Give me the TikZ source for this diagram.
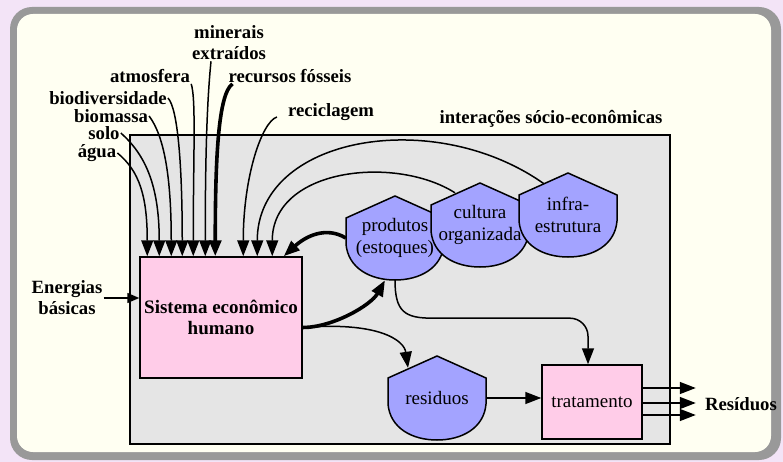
\documentclass[tikz,border=0pt]{standalone}
\usepackage{fontspec}
\setmainfont{Liberation Serif}
\usetikzlibrary{arrows.meta,calc}

\definecolor{bgpink}{HTML}{F3E4F7}
\definecolor{framegray}{HTML}{999999}
\definecolor{ivory}{HTML}{FFFFF2}
\definecolor{boxgray}{HTML}{E5E5E5}
\definecolor{syspink}{HTML}{FFCCE8}
\definecolor{bagblue}{HTML}{A3A3FF}

\tikzset{
  lbl/.style={font=\fontsize{18.7}{21}\selectfont\bfseries, align=center, inner sep=1pt},
  txt/.style={font=\fontsize{19}{22}\selectfont, align=center, inner sep=0pt},
  pinkbox/.style={draw, line width=1.5pt, fill=syspink, align=center, inner sep=0pt},
  flow/.style={line width=1.5pt, -{Triangle[length=16pt,width=12pt]}},
  bigflow/.style={flow, line width=3.6pt},
  smallflow/.style={line width=1.5pt, -{Triangle[length=12pt,width=10pt]}},
}

\newcommand{\bagnode}[3]{%
  \filldraw[fill=bagblue, line width=1.5pt] (#2) ++(0,-42) -- ++(49,22) -- ++(0,26)
    .. controls +(-2,24) and +(25,0) .. ++(-49,36)
    .. controls +(-25,0) and +(2,24) .. ++(-49,-36) -- ++(0,-26) -- cycle;
  \node[txt, minimum width=98pt, minimum height=84pt] (#1) at (#2) {#3};}

\begin{document}
\begin{tikzpicture}[x=1pt,y=-1pt]
\useasboundingbox (0,0) rectangle (783,462);
\fill[bgpink] (0,0) rectangle (783,462);
\fill[framegray, rounded corners=22pt] (10,7) rectangle (781,460);
\fill[ivory, rounded corners=16pt] (17,14) rectangle (771,452);
\node[draw, line width=1.5pt, fill=boxgray, minimum width=540pt, minimum height=309pt] (socio) at (400,289.5) {};
\node[lbl] (socl) at (551,119) {interações sócio-econômicas};
\node[pinkbox, minimum width=162pt, minimum height=121pt, font=\fontsize{19}{21}\selectfont\bfseries] (sist) at (221,317.5) {Sistema econômico\\humano};
\node[pinkbox, minimum width=100pt, minimum height=74pt, font=\fontsize{19}{22}\selectfont] (trat) at (592,402) {tratamento};
\node[lbl] (minext) at (229,43) {minerais\\extraídos};
\node[lbl] (atm) at (150,76) {atmosfera};
\node[lbl] (foss) at (290,76) {recursos fósseis};
\node[lbl] (biod) at (108,98) {biodiversidade};
\node[lbl] (biom) at (111,116) {biomassa};
\node[lbl] (solo) at (104,133) {solo};
\node[lbl] (agua) at (97,153) {água};
\node[lbl] (recic) at (331,112) {reciclagem};
\node[lbl] (energ) at (67,298) {Energias\\básicas};
\node[lbl] (resid) at (741,404) {Resíduos};
\bagnode{prod}{395,238}{produtos\\(estoques)}
\bagnode{cult}{480,225}{cultura\\organizada}
\bagnode{infra}{568,215}{infra-\\estrutura}
\bagnode{res}{437,398}{residuos}
\draw[flow] (agua.east) .. controls +(22,18) and +(0,-60) .. ($(sist.north west)+(8,0)$);
\draw[flow] (solo.east) .. controls +(25,22) and +(0,-70) .. ($(sist.north west)+(20,0)$);
\draw[flow] (biom.east) .. controls +(15,20) and +(0,-80) .. ($(sist.north west)+(32,0)$);
\draw[flow] (biod.east) .. controls +(10,10) and +(0,-90) .. ($(sist.north west)+(43,0)$);
\draw[flow] (atm.south east) .. controls +(5,15) and +(0,-100) .. ($(sist.north west)+(54,0)$);
\draw[flow] ($(minext.south)+(-18,0)$) .. controls +(-4,40) and +(0,-100) .. ($(sist.north west)+(66,0)$);
\draw[bigflow] ($(foss.south west)+(5,0)$) .. controls +(-14,10) and +(0,-100) .. ($(sist.north west)+(76,0)$);
\draw[flow] ($(recic.west)+(-10,5)$) .. controls +(-15,5) and +(0,-80) .. ($(sist.north west)+(104,0)$);
\draw[flow] ($(infra.north)+(-24,11)$) .. controls +(-110,-78) and +(0,-120) .. ($(sist.north west)+(118,0)$);
\draw[flow] ($(cult.north)+(-25,10)$) .. controls +(-60,-38) and +(0,-88) .. ($(sist.north west)+(133,0)$);
\draw[bigflow] (prod.west) .. controls +(-20,-12) and +(22,-20) .. ($(sist.north east)+(-19,0)$);
\draw[bigflow] ($(sist.east)+(0,10)$) .. controls +(30,0) and +(-14,25) .. ($(prod.south)+(-10,0)$);
\draw[flow] ($(sist.east)+(0,10)$) .. controls +(75,-6) and +(-4,-28) .. ($(res.north)+(-29,12)$);
\draw[flow] (prod.south) .. controls +(0,32) and +(-28,0) .. ++(38,38) [rounded corners=18pt] -| ($(trat.north)+(-4,0)$);
\draw[flow] (res.east) -- (res.east -| trat.west);
\foreach \dy in {-14,1,13}
  \draw[flow] ($(trat.east)+(0,\dy)$) -- ++(53,0);
\draw[smallflow] (energ.east) -- (energ.east -| sist.west);
\end{tikzpicture}
\end{document}
